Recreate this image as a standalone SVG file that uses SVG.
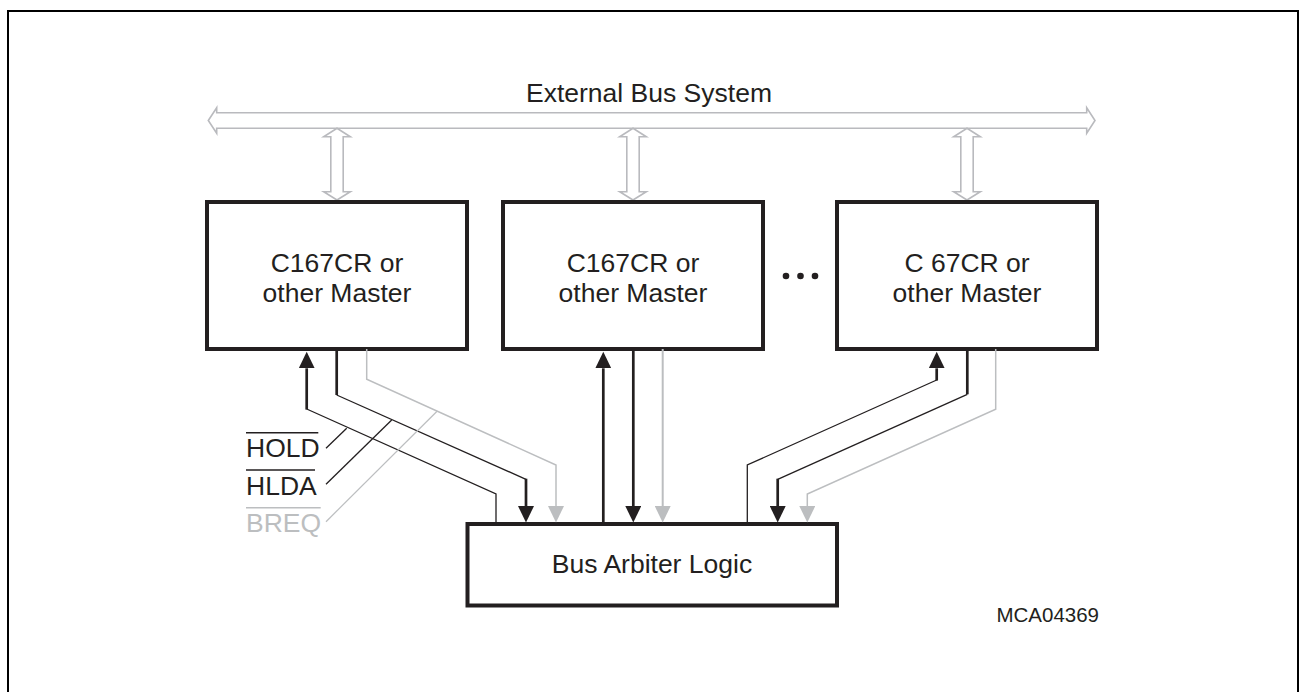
<svg xmlns="http://www.w3.org/2000/svg" width="1300" height="692" viewBox="0 0 1300 692">
<style>
  .t{font-family:"Liberation Sans",Arial,sans-serif;font-size:26.5px;fill:#231f20}
  .tg{fill:#bcbec0}
  .box{fill:#fff;stroke:#231f20;stroke-width:4}
  .bus{fill:none;stroke:#b9babe;stroke-width:1.6;stroke-linejoin:miter}
  .thick{fill:none;stroke:#231f20;stroke-width:2.7}
  .thin{fill:none;stroke:#231f20;stroke-width:1.3}
  .gray{fill:none;stroke:#bcbec0;stroke-width:1.5}
  .ov{stroke:#231f20;stroke-width:1.6}
</style>
<defs>
  <marker id="ab" viewBox="0 0 17 16" refX="0" refY="8" markerWidth="17" markerHeight="16" markerUnits="userSpaceOnUse" orient="auto">
    <path d="M0,0 L16.6,8 L0,16 Z" fill="#231f20"/>
  </marker>
  <marker id="ag" viewBox="0 0 17 16" refX="0" refY="8" markerWidth="17" markerHeight="16" markerUnits="userSpaceOnUse" orient="auto">
    <path d="M0,0 L16.6,8 L0,16 Z" fill="#bcbec0"/>
  </marker>
</defs>
<rect width="1300" height="692" fill="#fff"/>
<path d="M8 700 V11 H1298 V700" fill="none" stroke="#000" stroke-width="2"/>

<g id="bus">
  <path class="bus" d="M208.3 120.5 L216.7 107.7 L216.7 112.7 L1086.7 112.7 L1086.7 107.7 L1095 120.5 L1086.7 133.3 L1086.7 128.3 L216.7 128.3 L216.7 133.3 Z"/>
  <text class="t" x="649" y="102.3" text-anchor="middle">External Bus System</text>
</g>

<g id="buslinks">
  <path class="bus" d="M337 128.3 L350.3 136.7 L343.2 136.7 L343.2 191.7 L350.3 191.7 L337 200 L323.7 191.7 L330.8 191.7 L330.8 136.7 L323.7 136.7 Z"/>
  <path class="bus" d="M633 128.3 L646.3 136.7 L639.2 136.7 L639.2 191.7 L646.3 191.7 L633 200 L619.7 191.7 L626.8 191.7 L626.8 136.7 L619.7 136.7 Z"/>
  <path class="bus" d="M967 128.3 L980.3 136.7 L973.2 136.7 L973.2 191.7 L980.3 191.7 L967 200 L953.7 191.7 L960.8 191.7 L960.8 136.7 L953.7 136.7 Z"/>
</g>

<g id="master1">
  <rect class="box" x="207" y="202" width="260" height="147"/>
  <text class="t" x="337" y="272" text-anchor="middle">C167CR or</text>
  <text class="t" x="337" y="302" text-anchor="middle">other Master</text>
</g>
<g id="master2">
  <rect class="box" x="503" y="202" width="260" height="147"/>
  <text class="t" x="633" y="272" text-anchor="middle">C167CR or</text>
  <text class="t" x="633" y="302" text-anchor="middle">other Master</text>
</g>
<g id="master3">
  <rect class="box" x="837" y="202" width="260" height="147"/>
  <text class="t" x="967" y="272" text-anchor="middle">C 67CR or</text>
  <text class="t" x="967" y="302" text-anchor="middle">other Master</text>
</g>
<g id="ellipsis" fill="#231f20">
  <circle cx="786" cy="276" r="3.3"/>
  <circle cx="800.5" cy="276" r="3.3"/>
  <circle cx="815" cy="276" r="3.3"/>
</g>

<g id="arbiter">
  <rect class="box" x="467.5" y="524" width="369.5" height="81.5"/>
  <text class="t" x="652" y="573.3" text-anchor="middle">Bus Arbiter Logic</text>
</g>

<g id="connectors">
  <!-- master 1 -->
  <path class="thin" d="M496 524 V494 L306.7 409"/>
  <path class="thick" d="M306.7 409.6 V368.3" marker-end="url(#ab)"/>
  <path class="thick" d="M336.7 349 V395"/>
  <path class="thin" d="M336.7 395 L526 479.3"/>
  <path class="thick" d="M526 478.7 V506" marker-end="url(#ab)"/>
  <path class="gray" d="M366.7 349 V379.3 L556 465 V506" marker-end="url(#ag)"/>
  <!-- master 2 -->
  <path class="thick" d="M603.3 524 V368.3" marker-end="url(#ab)"/>
  <path class="thick" d="M633.3 349 V506" marker-end="url(#ab)"/>
  <path class="gray" style="stroke-width:2" d="M662.7 349 V506" marker-end="url(#ag)"/>
  <!-- master 3 -->
  <path class="thin" d="M747.3 524 V465 L936.7 380"/>
  <path class="thick" d="M936.7 380.6 V368.3" marker-end="url(#ab)"/>
  <path class="thick" d="M967.3 349 V394.3"/>
  <path class="thin" d="M967.3 394.3 L777.7 479.3"/>
  <path class="thick" d="M777.7 478.7 V506" marker-end="url(#ab)"/>
  <path class="gray" d="M995.7 349 V409.3 L807.3 494 V506" marker-end="url(#ag)"/>
</g>

<g id="labels">
  <path class="thin" d="M326 448.3 L346.7 428.3"/>
  <path class="thin" d="M326 484.3 L391.7 420"/>
  <path class="gray" style="stroke-width:1.2" d="M326 521.7 L437.3 411"/>
  <text class="t" x="246" y="457.3">HOLD</text>
  <line class="ov" x1="246" y1="432.7" x2="318.3" y2="432.7"/>
  <text class="t" x="246" y="495">HLDA</text>
  <line class="ov" x1="246" y1="470" x2="315" y2="470"/>
  <text class="t tg" x="246" y="531.7">BREQ</text>
  <line class="ov" style="stroke:#bcbec0" x1="246" y1="507.7" x2="320.7" y2="507.7"/>
</g>

<text class="t" style="font-size:20.5px" x="1099" y="622" text-anchor="end">MCA04369</text>
</svg>
